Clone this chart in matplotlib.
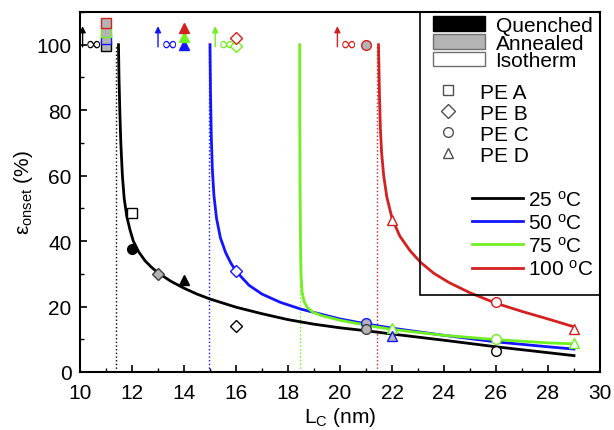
import matplotlib
matplotlib.use('Agg')
import matplotlib.pyplot as plt
from matplotlib.lines import Line2D
from matplotlib.patches import Patch, Rectangle
from matplotlib.ticker import MultipleLocator

plt.rcParams['font.family'] = ['Liberation Sans', 'DejaVu Sans']
plt.rcParams['mathtext.fontset'] = 'custom'
plt.rcParams['mathtext.rm'] = 'Liberation Sans'
plt.rcParams['mathtext.it'] = 'Liberation Sans'

# ---- fitted curves (L_c in nm, eps_onset in %) ----
temps = [25, 50, 75, 100]
curve_x_25 = [11.48, 11.50, 11.53, 11.57, 11.63, 11.70, 11.80, 11.92, 12.05, 12.25, 12.5, 12.75,
              13.0, 13.5, 14.0, 14.5, 15.0, 16.0, 17.0, 18.0, 19.0, 20.0, 21.0, 22.0,
              24.0, 26.0, 28.0, 29.0]
curve_y_25 = [100, 90, 80, 70, 60, 53, 47.5, 43.5, 40, 36.8, 34, 32,
              30.3, 27.7, 25.6, 23.8, 22.3, 19.8, 17.8, 16.0, 14.6, 13.5, 12.6, 11.6,
              9.7, 7.7, 5.9, 5.0]
curve_x_50 = [15.0, 15.02, 15.05, 15.09, 15.15, 15.25, 15.4, 15.6, 15.8, 16.0, 16.5, 17.0,
              17.7, 18.5, 19.5, 20.0, 21.0, 22.0, 24.0, 26.0, 28.0, 29.0]
curve_y_50 = [100, 85, 72, 62, 54, 47, 41, 36.5, 33.3, 30.8, 26.5, 23.8,
              21.3, 19.2, 17.2, 16.2, 14.7, 13.4, 11.2, 9.2, 7.7, 7.0]
curve_x_75 = [18.45, 18.45, 18.46, 18.48, 18.5, 18.54, 18.62, 18.75, 18.95, 19.3, 20.0, 21.0,
              22.0, 24.0, 26.0, 28.0, 29.0]
curve_y_75 = [100, 80, 60, 40, 30, 24.5, 21.5, 19.6, 18.3, 17.2, 15.8, 14.3,
              13.0, 11.2, 9.9, 8.9, 8.6]
curve_x_100 = [21.48, 21.5, 21.52, 21.55, 21.6, 21.68, 21.8, 22.0, 22.3, 22.7, 23.1, 23.6,
               24.2, 25.0, 26.0, 27.0, 28.0, 29.0]
curve_y_100 = [100, 92, 84, 75, 67, 60, 53.5, 47, 41.5, 37, 33.5, 30.2,
               27.3, 24.2, 21, 18.5, 16.2, 13.8]

# critical thickness (dotted lines)
crit_x = [11.4, 14.97, 18.45, 21.42]

# ---- measured points ----
pt_x = [12, 12, 13, 14, 16, 16, 21, 21, 22, 22, 22, 26, 26, 26, 29, 29]
pt_y = [48.5, 37.5, 30, 28, 31, 14, 15, 13, 13.5, 11, 46.5, 21.5, 10, 6.5, 13, 9]
pt_sample = ['A', 'C', 'B', 'D', 'B', 'B', 'C', 'C', 'D', 'D', 'D', 'C', 'C', 'C', 'D', 'D']
pt_temp = [25, 25, 25, 25, 50, 25, 50, 25, 75, 50, 100, 100, 75, 25, 100, 75]
pt_state = ['iso', 'quench', 'anneal', 'quench', 'iso', 'iso', 'anneal', 'anneal',
            'iso', 'anneal', 'iso', 'iso', 'iso', 'iso', 'iso', 'iso']

# ---- samples that never reached onset (infinite), drawn at the top ----
inf_x = [11, 11, 11, 11, 14, 14, 14, 16, 16, 21]
inf_y = [99.7, 101.7, 104, 106.5, 100, 102.5, 105, 99.5, 102, 100]
inf_sample = ['A', 'A', 'A', 'A', 'D', 'D', 'D', 'B', 'B', 'C']
inf_temp = [25, 50, 75, 100, 50, 75, 100, 75, 100, 100]
inf_state = ['anneal'] * 4 + ['quench'] * 3 + ['iso', 'iso', 'anneal']
arrow_x = [10.1, 13.0, 15.2, 19.9]

colors = {25: '#000000', 50: '#1414ff', 75: '#70f020', 100: '#d42020'}
markers = {'A': 's', 'B': 'D', 'C': 'o', 'D': '^'}
gray = '#b4b4b4'


def face(state, temp):
    if state == 'quench':
        return colors[temp]
    if state == 'anneal':
        return gray
    return 'white'


fig = plt.figure(figsize=(6.14, 4.31), dpi=100)
ax = fig.add_axes([0.1303, 0.1346, 0.8469, 0.8353])

for x, c in zip(crit_x, temps):
    ax.vlines(x, 0, 100, colors=colors[c], linestyles=':', lw=1)

curves = [(curve_x_25, curve_y_25), (curve_x_50, curve_y_50),
          (curve_x_75, curve_y_75), (curve_x_100, curve_y_100)]
for (cx, cy), t in zip(curves, temps):
    ax.plot(cx, cy, color=colors[t], lw=2, zorder=3)

for x, y, s, t, st in zip(pt_x, pt_y, pt_sample, pt_temp, pt_state):
    ms = 7 if s != 'B' else 6.3
    ax.plot(x, y, marker=markers[s], ls='none', ms=ms, mfc=face(st, t),
            mec=colors[t] if st != 'anneal' or t != 25 else '#404040', mew=1, zorder=4)

for x, y, s, t, st in zip(inf_x, inf_y, inf_sample, inf_temp, inf_state):
    ms = 7 if s != 'B' else 6.3
    ax.plot(x, y, marker=markers[s], ls='none', ms=ms, mfc=face(st, t),
            mec=colors[t], mew=1, zorder=4)

for x, t in zip(arrow_x, temps):
    ax.annotate('', xy=(x, 106.5), xytext=(x, 98.5),
                arrowprops=dict(arrowstyle='-|>', color=colors[t], lw=1, mutation_scale=9))
    ax.text(x + 0.1, 100.3, '\u221e', color=colors[t], fontsize=15,
            family='DejaVu Sans', ha='left', va='center')

ax.set_xlim(10, 30)
ax.set_ylim(0, 110)
ax.xaxis.set_major_locator(MultipleLocator(2))
ax.xaxis.set_minor_locator(MultipleLocator(1))
ax.set_yticks([0, 20, 40, 60, 80, 100])
ax.yaxis.set_minor_locator(MultipleLocator(10))
ax.tick_params(which='both', direction='in', labelsize=15)
ax.tick_params(which='major', length=5, width=1.2)
ax.tick_params(which='minor', length=3, width=1)
ax.tick_params(axis='x', pad=8)
ax.tick_params(axis='y', pad=6)
for sp in ax.spines.values():
    sp.set_linewidth(1.5)

ax.set_xlabel('L$_\\mathregular{C}$ (nm)', fontsize=15, labelpad=2)
ax.set_ylabel('\u03b5$_\\mathregular{onset}$ (%)', fontsize=15, labelpad=1)

# legend: three blocks inside one frame
h1 = [Patch(facecolor='black', edgecolor='black'),
      Patch(facecolor=gray, edgecolor='#707070'),
      Patch(facecolor='white', edgecolor='#707070')]
l1 = ['Quenched', 'Annealed', 'Isotherm']
h2 = [Line2D([], [], ls='none', marker=markers[k], mfc='none', mec='#505050', ms=7, mew=1)
      for k in ['A', 'B', 'C', 'D']]
l2 = ['PE A', 'PE B', 'PE C', 'PE D']
h3 = [Line2D([], [], color=colors[t], lw=2) for t in temps]
l3 = ['%d $\\mathregular{^oC}$' % t for t in temps]

common = dict(frameon=False, fontsize=15, loc='upper left', borderpad=0,
              borderaxespad=0, handleheight=0.7)
leg1 = ax.legend(h1, l1, bbox_to_anchor=(0.679, 0.99), handlelength=2.5,
                 handletextpad=0.5, labelspacing=-0.05, **common)
ax.add_artist(leg1)
leg2 = ax.legend(h2, l2, bbox_to_anchor=(0.679, 0.804), handlelength=1.45,
                 handletextpad=0.8, labelspacing=0.1, **common)
ax.add_artist(leg2)
ax.legend(h3, l3, bbox_to_anchor=(0.754, 0.507), handlelength=2.45,
          handletextpad=0.25, labelspacing=0.15, **common)
ax.add_patch(Rectangle((0.654, 0.215), 0.346, 0.785, transform=ax.transAxes,
                       fill=False, edgecolor='black', lw=1.2, zorder=6))

fig.savefig('out.png', dpi=100)
